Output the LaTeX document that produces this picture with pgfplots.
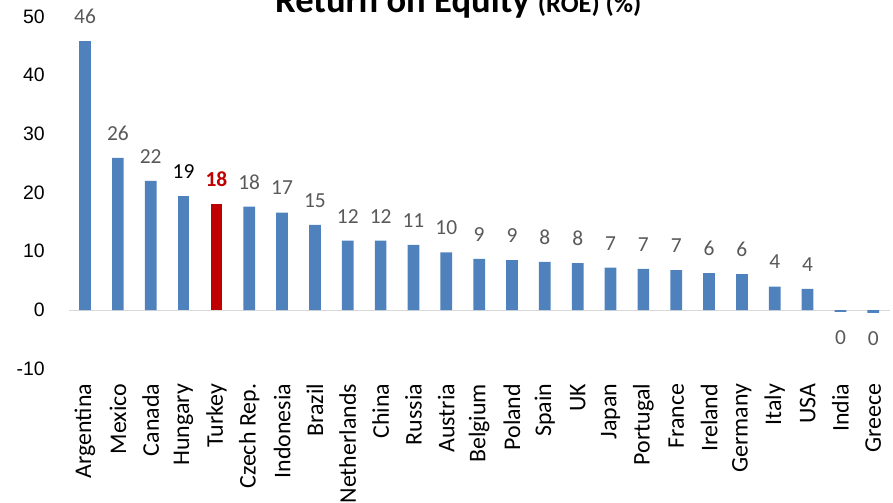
\documentclass[border=0pt]{standalone}
\usepackage{pgfplots}
\usepackage{pgfplotstable}
\pgfplotsset{compat=1.18}
\usepackage{fontspec}
\setmainfont{Carlito}
\newfontfamily\arial{Liberation Sans}
\definecolor{barblue}{HTML}{4F81BD}
\definecolor{barred}{HTML}{C00000}
\definecolor{lblgray}{HTML}{595959}
\definecolor{zeroline}{HTML}{D9D9D9}

\pgfplotstableread{
x y label
0 45.8 46
1 25.9 26
2 22.0 22
5 17.6 18
6 16.6 17
7 14.5 15
8 11.8 12
9 11.8 12
10 11.1 11
11 9.8 10
12 8.7 9
13 8.5 9
14 8.2 8
15 8.0 8
16 7.2 7
17 7.0 7
18 6.8 7
19 6.3 6
20 6.1 6
21 4.0 4
22 3.6 4
}\mainbars
\pgfplotstableread{
x y label
3 19.4 19
}\hungary
\pgfplotstableread{
x y label
4 18.1 18
}\turkey
\pgfplotstableread{
x y label
23 -0.3 0
24 -0.5 0
}\negbars

\begin{document}
\begin{tikzpicture}
\begin{axis}[
  at={(68.6bp,134.3bp)}, anchor=south west,
  scale only axis, width=821.1bp, height=352.2bp,
  xmin=-0.5, xmax=24.5, ymin=-10, ymax=50,
  axis line style={draw=none},
  tick style={draw=none},
  major tick length=0pt,
  ytick={-10,0,10,20,30,40,50},
  yticklabels={-10,0,10,20,30,40,50},
  xtick={0,...,24},
  xticklabels={Argentina,Mexico,Canada,Hungary,Turkey,Czech Rep.,Indonesia,Brazil,Netherlands,China,Russia,Austria,Belgium,Poland,Spain,UK,Japan,Portugal,France,Ireland,Germany,Italy,USA,India,Greece},
  yticklabel style={font=\arial\fontsize{19.5}{19.5}\selectfont, anchor=east, inner sep=0pt, xshift=-23.6bp},
  xticklabel style={font=\fontsize{24}{24}\selectfont, yshift=-15bp, rotate=90, anchor=east, inner sep=0pt},
  ybar, bar width=11.7bp, bar shift=0pt,
  clip=false,
  point meta=explicit symbolic,
  nodes near coords,
  every node near coord/.append style={font=\fontsize{21.5}{21.5}\selectfont, anchor=center, text=lblgray},
]
\draw[zeroline, line width=1bp] (axis cs:-0.5,0) -- (axis cs:24.5,0);
\addplot[fill=barblue, draw=none, every node near coord/.append style={yshift=24.5bp}] table[x=x, y=y, meta=label] {\mainbars};
\addplot[fill=barblue, draw=none, every node near coord/.append style={yshift=24.5bp, text=black}] table[x=x, y=y, meta=label] {\hungary};
\addplot[fill=barred, draw=none, every node near coord/.append style={yshift=24.5bp, text=barred, font=\fontsize{21.5}{21.5}\selectfont\bfseries}] table[x=x, y=y, meta=label] {\turkey};
\addplot[fill=barblue, draw=none, every node near coord/.append style={yshift=-26bp}] table[x=x, y=y, meta=label] {\negbars};
\end{axis}
\node[anchor=base west, inner sep=0pt] at (275bp,490bp) {\fontsize{36.7}{40}\selectfont\bfseries Return on Equity \fontsize{26.5}{28}\selectfont(ROE) (\%)};
\pgfresetboundingbox
\path[use as bounding box] (0,0) rectangle (893bp,503bp);
\end{tikzpicture}
\end{document}
